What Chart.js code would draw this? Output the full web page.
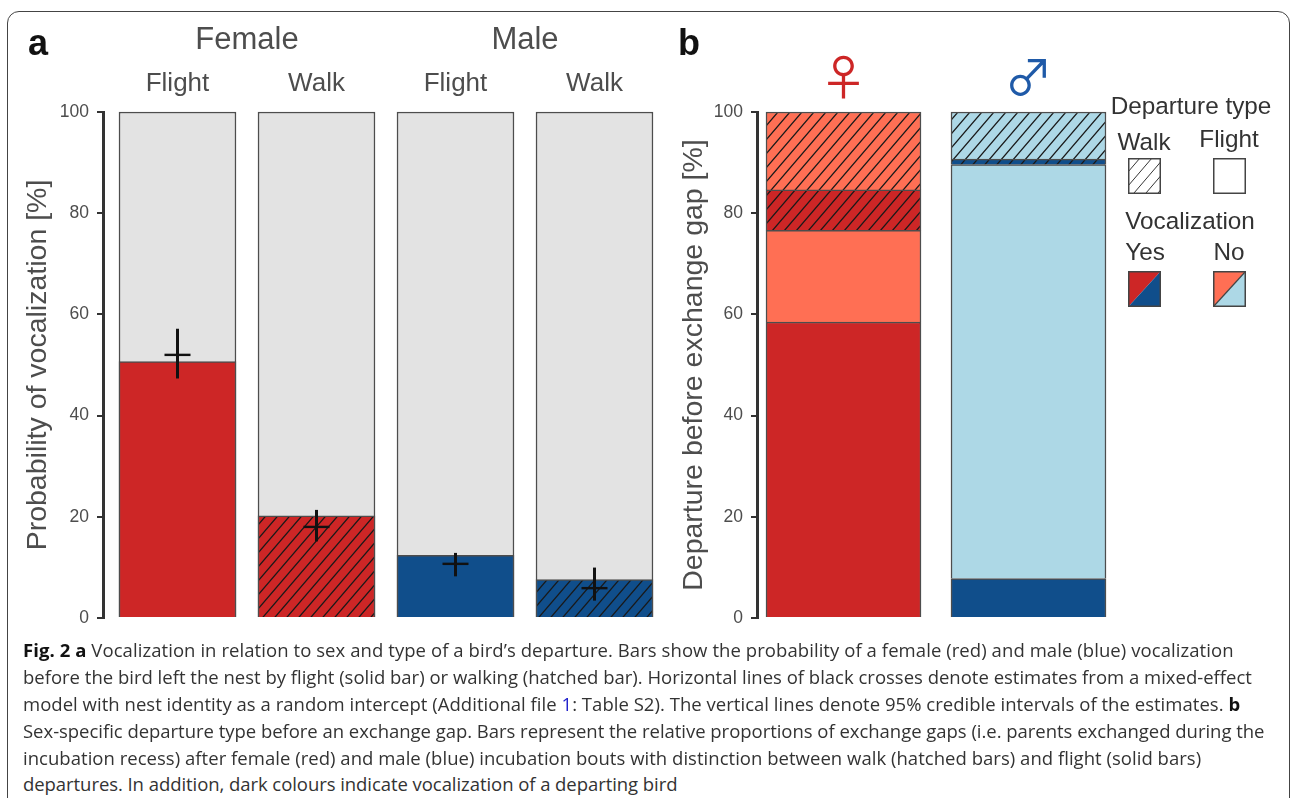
<!DOCTYPE html>
<html>
<head>
<meta charset="utf-8">
<script src="https://cdn.jsdelivr.net/npm/chart.js@4"></script>
<style>
  html, body { margin: 0; background: #fff; overflow: hidden; }
  body { width: 1290px; height: 798px; position: relative; font-family: "Liberation Sans", sans-serif; }
  #frame { position: absolute; left: 7px; top: 11px; width: 1281px; height: 800px; border: 1.5px solid #444; border-radius: 12px; }
  canvas { display: block; position: absolute; top: 0; }
  .letter { position: absolute; font-weight: bold; font-size: 36px; color: #111; line-height: 36px; }
  .key { position: absolute; font-size: 24.3px; line-height: 28px; color: #333; transform: translateX(-50%); white-space: nowrap; }
  svg.swatch { position: absolute; width: 33px; height: 36px; }
  .cap { position: absolute; left: 23px; font-family: "Open Sans", sans-serif; font-size: 18.5px; line-height: 24px; color: #333; white-space: nowrap; }
  .cap b { color: #111; }
  .cap span { color: #2222cc; }
</style>
</head>
<body>
<div id="frame"></div>
<canvas id="chartA" width="670" height="640" style="left:0"></canvas>
<canvas id="chartB" width="460" height="640" style="left:670px"></canvas>

<div class="letter" style="left:28px;top:25px">a</div>
<div class="letter" style="left:678px;top:25px">b</div>

<div class="key" style="left:1191px;top:92px">Departure type</div>
<div class="key" style="left:1144px;top:128px">Walk</div>
<div class="key" style="left:1229px;top:125px">Flight</div>
<div class="key" style="left:1190px;top:207px">Vocalization</div>
<div class="key" style="left:1145px;top:238px">Yes</div>
<div class="key" style="left:1229px;top:238px">No</div>

<svg class="swatch" style="left:1128px;top:158px" viewBox="0 0 33 36">
  <defs><pattern id="hatchKey" width="12" height="14" patternUnits="userSpaceOnUse">
    <path d="M-3 3.5L3 -3.5M0 14L12 0M9 17.5L15 10.5" stroke="#333" stroke-width="1"/>
  </pattern></defs>
  <rect x="0.75" y="0.75" width="31.5" height="34.5" fill="url(#hatchKey)" stroke="#444" stroke-width="1.5"/>
</svg>
<svg class="swatch" style="left:1213px;top:158px" viewBox="0 0 33 36">
  <rect x="0.75" y="0.75" width="31.5" height="34.5" fill="#fff" stroke="#444" stroke-width="1.5"/>
</svg>
<svg class="swatch" style="left:1128px;top:271px" viewBox="0 0 33 36">
  <path d="M0.75 0.75H32.25L0.75 35.25Z" fill="#cd2626"/>
  <path d="M32.25 0.75V35.25H0.75Z" fill="#104e8b"/>
  <rect x="0.75" y="0.75" width="31.5" height="34.5" fill="none" stroke="#444" stroke-width="1.5"/>
</svg>
<svg class="swatch" style="left:1213px;top:271px" viewBox="0 0 33 36">
  <path d="M0.75 0.75H32.25L0.75 35.25Z" fill="#ff6f54"/>
  <path d="M32.25 0.75V35.25H0.75Z" fill="#add8e6"/>
  <path d="M32.25 0.75L0.75 35.25" stroke="#444" stroke-width="1.2"/>
  <rect x="0.75" y="0.75" width="31.5" height="34.5" fill="none" stroke="#444" stroke-width="1.5"/>
</svg>

<div class="cap" style="top:638px;letter-spacing:.07px"><b>Fig. 2 a</b> Vocalization in relation to sex and type of a bird’s departure. Bars show the probability of a female (red) and male (blue) vocalization</div>
<div class="cap" style="top:665px">before the bird left the nest by flight (solid bar) or walking (hatched bar). Horizontal lines of black crosses denote estimates from a mixed-effect</div>
<div class="cap" style="top:692px;letter-spacing:.03px">model with nest identity as a random intercept (Additional file <span>1</span>: Table S2). The vertical lines denote 95% credible intervals of the estimates. <b>b</b></div>
<div class="cap" style="top:719px;letter-spacing:-.03px">Sex-specific departure type before an exchange gap. Bars represent the relative proportions of exchange gaps (i.e. parents exchanged during the</div>
<div class="cap" style="top:746px;letter-spacing:.03px">incubation recess) after female (red) and male (blue) incubation bouts with distinction between walk (hatched bars) and flight (solid bars)</div>
<div class="cap" style="top:772px;letter-spacing:-.06px">departures. In addition, dark colours indicate vocalization of a departing bird</div>

<script>
// panel a
const departures = ["Flight", "Walk", "Flight", "Walk"];
const sexGroups = ["Female", "Male"];
const whole = [100, 100, 100, 100];
const vocalized = [50.7, 20.2, 12.4, 7.6];
const estimate = [52, 18, 10.7, 5.9];
const ciLow = [47.4, 15.2, 8.3, 3.5];
const ciHigh = [57.1, 21.3, 12.8, 9.9];

// panel b
const sexes = ["♀", "♂"];
const flightVoc = [58.5, 7.8];
const flightNo = [18.1, 81.8];
const walkVoc = [8, 1.1];
const walkNo = [15.4, 9.3];
const yTicks = [0, 20, 40, 60, 80, 100];

const red = "#cd2626", blue = "#104e8b", salmon = "#ff6f54", light = "#add8e6";
const edge = "#4d4d4d", ink = "#4d4d4d";

function hatch(color) {
  const c = document.createElement("canvas");
  c.width = 12;
  c.height = 14;
  const g = c.getContext("2d");
  g.fillStyle = color;
  g.fillRect(0, 0, 12, 14);
  g.strokeStyle = "#1a1a1a";
  g.lineWidth = 1.3;
  g.beginPath();
  g.moveTo(-3, 3.5); g.lineTo(3, -3.5);
  g.moveTo(0, 14); g.lineTo(12, 0);
  g.moveTo(9, 17.5); g.lineTo(15, 10.5);
  g.stroke();
  return g.createPattern(c, "repeat");
}

// the y axis stands a few px off the first bar slot, as in the figure
const moveAxis = {
  id: "moveAxis",
  afterLayout(chart, args, opts) {
    chart.scales.y.left += opts.dx;
    chart.scales.y.right += opts.dx;
  },
};

const groupTitles = {
  id: "groupTitles",
  afterDraw(chart) {
    const x = chart.scales.x, ctx = chart.ctx;
    ctx.save();
    ctx.font = '31px "Liberation Sans"';
    ctx.fillStyle = ink;
    ctx.textAlign = "center";
    ctx.textBaseline = "middle";
    sexGroups.forEach((g, i) => {
      const mid = (x.getPixelForValue(i * 2) + x.getPixelForValue(i * 2 + 1)) / 2;
      ctx.fillText(g, mid, 40);
    });
    ctx.restore();
  },
};

function scales(title, titlePad, yWidth, topFont, topPad, topColor, tickPad) {
  return {
    x: {
      position: "top",
      border: { display: false },
      grid: { display: false },
      afterFit(s) { s.height = 112; },
      ticks: { font: topFont, color: topColor, padding: topPad, maxRotation: 0, autoSkip: false },
    },
    y: {
      min: 0,
      max: 100,
      afterFit(s) { s.width = yWidth; },
      afterBuildTicks(s) { s.ticks = yTicks.map((v) => ({ value: v })); },
      border: { display: true, color: "#333", width: 3 },
      grid: { drawOnChartArea: false, color: "#333", lineWidth: 2, tickLength: 6 },
      ticks: { font: { family: "Liberation Sans", size: 17.5 }, color: ink, padding: tickPad },
      title: {
        display: true,
        text: title,
        color: ink,
        font: { family: "Liberation Sans", size: 28.5 },
        padding: { top: titlePad, bottom: 0 },
      },
    },
  };
}

const base = {
  responsive: false,
  animation: false,
  events: [],
  plugins: { legend: { display: false }, tooltip: { enabled: false } },
};

new Chart(document.getElementById("chartA"), {
  data: {
    labels: departures,
    datasets: [
      { type: "line", data: estimate, showLine: false, pointStyle: "line", pointRadius: 13, pointBorderWidth: 2.4, pointBorderColor: "#111", order: 1, clip: false },
      { type: "bar", data: ciLow.map((v, i) => [v, ciHigh[i]]), barThickness: 2.4, backgroundColor: "#111", borderWidth: 0, grouped: false, order: 2, clip: false },
      {
        type: "bar",
        data: vocalized,
        backgroundColor: [red, hatch(red), blue, hatch(blue)],
        borderColor: edge,
        borderWidth: 1.5,
        barThickness: 117,
        grouped: false,
        order: 3,
        clip: false,
      },
      { type: "bar", data: whole, backgroundColor: "#e3e3e3", borderColor: edge, borderWidth: 1.5, barThickness: 117, grouped: false, order: 4, clip: false },
    ],
  },
  options: {
    ...base,
    layout: { autoPadding: false, padding: { left: 0, right: 6, top: 0, bottom: 22 } },
    scales: scales("Probability of vocalization [%]", 26, 108, { family: "Liberation Sans", size: 26 }, 5, ink, 8),
    plugins: { ...base.plugins, moveAxis: { dx: -5 } },
  },
  plugins: [moveAxis, groupTitles],
});

const stackBar = (data, backgroundColor) => ({
  data, backgroundColor, borderColor: edge, borderWidth: 1.5, barThickness: 155, stack: "s", clip: false,
});

const bScales = scales("Departure before exchange gap [%]", 1, 81, { family: "Noto Sans CJK JP", size: 48 }, -2, ["#cd2626", "#1f5aa8"], 8);
bScales.x.stacked = true;
bScales.y.stacked = true;

new Chart(document.getElementById("chartB"), {
  type: "bar",
  data: {
    labels: sexes,
    datasets: [
      stackBar(flightVoc, [red, blue]),
      stackBar(flightNo, [salmon, light]),
      stackBar(walkVoc, [hatch(red), hatch(blue)]),
      stackBar(walkNo, [hatch(salmon), hatch(light)]),
    ],
  },
  options: {
    ...base,
    layout: { autoPadding: false, padding: { left: 0, right: 9, top: 0, bottom: 22 } },
    scales: bScales,
    plugins: { ...base.plugins, moveAxis: { dx: 6 } },
  },
  plugins: [moveAxis],
});
</script>
</body>
</html>
